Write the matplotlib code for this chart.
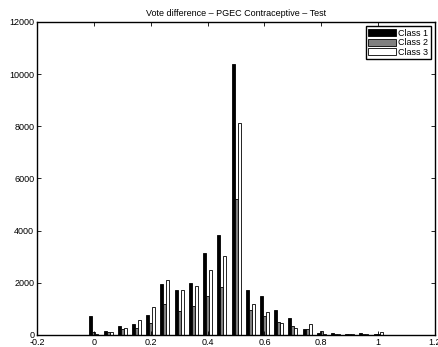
import numpy as np
import matplotlib.pyplot as plt

plt.rcParams['font.family'] = ['Liberation Sans', 'DejaVu Sans']

# bin centres of the vote difference histogram
bins = [0.0, 0.05, 0.1, 0.15, 0.2, 0.25, 0.3, 0.35, 0.4, 0.45, 0.5,
        0.55, 0.6, 0.65, 0.7, 0.75, 0.8, 0.85, 0.9, 0.95, 1.0]

class1 = [710, 165, 330, 435, 770, 1970, 1720, 1990, 3150, 3820, 10400,
          1720, 1480, 950, 650, 230, 90, 65, 30, 75, 30]
class2 = [110, 100, 220, 270, 450, 1170, 920, 1110, 1500, 1840, 5200,
          970, 720, 490, 330, 215, 150, 40, 30, 40, 50]
class3 = [55, 110, 255, 590, 1075, 2090, 1715, 1865, 2505, 3015, 8120,
          1175, 870, 460, 270, 410, 50, 30, 20, 20, 100]

labels = ['Class 1', 'Class 2', 'Class 3']
colors = ['black', '#808080', 'white']

fig = plt.figure(figsize=(4.39, 3.47), dpi=100)
ax = fig.add_axes([0.0843, 0.0346, 0.9067, 0.902])

x = np.array(bins)
w = 0.0105
for k, (vals, c, lab) in enumerate(zip([class1, class2, class3], colors, labels)):
    ax.bar(x + (k - 1) * w, vals, width=w, color=c, edgecolor='black',
           linewidth=0.6, label=lab)

ax.set_xlim(-0.2, 1.2)
ax.set_ylim(0, 12000)
ax.set_xticks(np.arange(-0.2, 1.21, 0.2))
ax.set_xticklabels(['-0.2', '0', '0.2', '0.4', '0.6', '0.8', '1', '1.2'])
ax.set_yticks(np.arange(0, 12001, 2000))
ax.tick_params(direction='in', length=3, width=0.6, labelsize=6.5, pad=2,
               top=True, right=True)
for s in ax.spines.values():
    s.set_linewidth(1.0)

ax.set_title('Vote difference \u2013 PGEC Contraceptive \u2013 Test', fontsize=6.5, pad=4)

leg = ax.legend(loc='upper right', fontsize=6.5, fancybox=False, framealpha=1,
                edgecolor='black', handlelength=3.0, handleheight=0.8,
                labelspacing=0.05, borderpad=0.3, handletextpad=0.3,
                borderaxespad=0.45)
leg.get_frame().set_linewidth(1.0)

fig.savefig('out.png', dpi=100)
